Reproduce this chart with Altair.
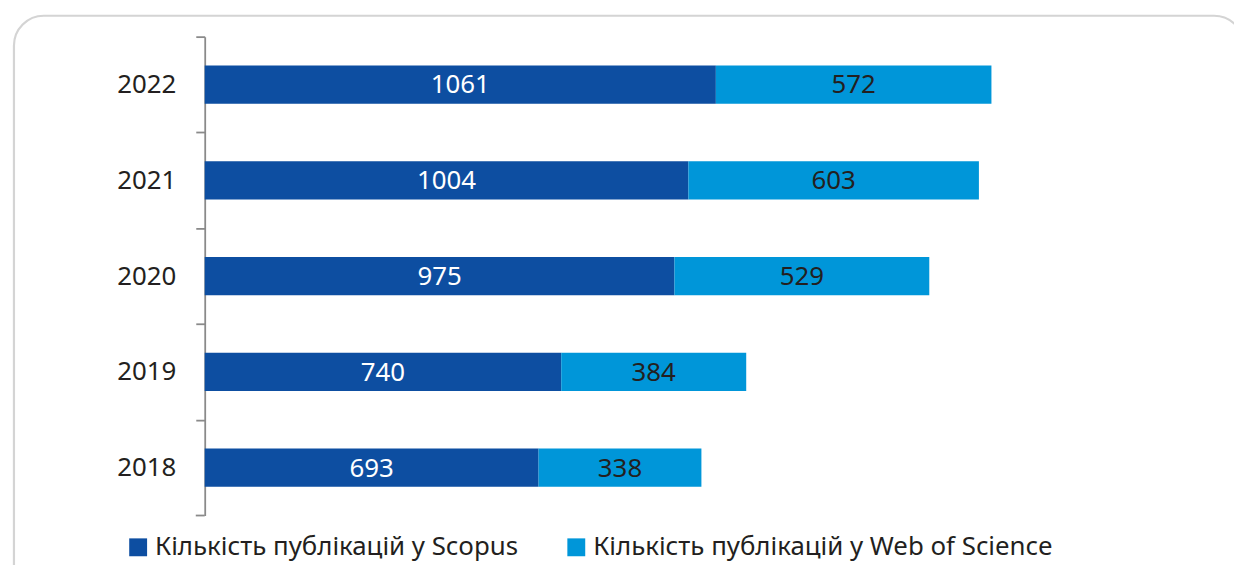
import altair as alt
import pandas as pd

years = ["2022", "2021", "2020", "2019", "2018"]
scopus = [1061, 1004, 975, 740, 693]
wos = [572, 603, 529, 384, 338]
series = ["Кількість публікацій у Scopus", "Кількість публікацій у Web of Science"]
colors = ["#0d4ea1", "#0096d9"]
text_colors = ["#ffffff", "#231f20"]

rows = []
for i, y in enumerate(years):
    rows.append({"year": y, "series": series[0], "value": scopus[i], "order": 0, "tc": text_colors[0]})
    rows.append({"year": y, "series": series[1], "value": wos[i], "order": 1, "tc": text_colors[1]})
df = pd.DataFrame(rows)

FONT = "Noto Sans"
H = 482
STEP = H / len(years)
AXIS_GRAY = "#8a8a8a"

base = alt.Chart(df).transform_stack(
    stack="value", groupby=["year"], as_=["x0", "x1"], sort=[alt.SortField("order")]
).transform_calculate(mid="(datum.x0 + datum.x1) / 2")

yenc = alt.Y(
    "year:N", sort=years, title=None,
    scale=alt.Scale(paddingInner=0.6, paddingOuter=0.3),
    axis=alt.Axis(
        tickOffset=-STEP / 2, labelOffset=STEP / 2, tickSize=9, tickColor=AXIS_GRAY, tickWidth=1.8,
        domainColor=AXIS_GRAY, domainWidth=1.8, labelFont=FONT, labelFontSize=26,
        labelColor="#231f20", labelPadding=20, grid=False,
    ),
)
xscale = alt.Scale(domain=[0, 2120], nice=False, zero=True)

bars = base.mark_bar().encode(
    y=yenc,
    x=alt.X("x0:Q", scale=xscale, axis=None),
    x2="x1:Q",
    color=alt.Color(
        "series:N", scale=alt.Scale(domain=series, range=colors),
        legend=alt.Legend(
            title=None, orient="none", direction="horizontal", legendX=-80, legendY=501,
            symbolType="square", symbolSize=324, symbolStrokeWidth=0, symbolOpacity=1,
            labelFont=FONT, labelFontSize=26, labelColor="#231f20", labelLimit=700,
            columnPadding=45, symbolOffset=0, labelOffset=4,
        ),
    ),
    order=alt.Order("order:Q"),
)

labels = base.mark_text(font=FONT, fontSize=26, baseline="middle", align="center", dy=1).encode(
    y=alt.Y("year:N", sort=years),
    x=alt.X("mid:Q", scale=xscale),
    text="value:Q",
    color=alt.Color("tc:N", scale=None),
)

bottom_tick = alt.Chart(pd.DataFrame({"a": [0]})).mark_rule(
    color=AXIS_GRAY, strokeWidth=1.8
).encode(x=alt.value(-9), x2=alt.value(0), y=alt.value(H))

frame = alt.Chart(pd.DataFrame({"a": [0]})).mark_rect(
    fillOpacity=0, stroke="#d4d4d4", strokeWidth=2.2, cornerRadius=30
).encode(
    x=alt.value(-192), x2=alt.value(1046), y=alt.value(-21), y2=alt.value(620)
)

chart = alt.layer(frame, bars, labels, bottom_tick).properties(
    width=1028, height=H,
    autosize=alt.AutoSizeParams(type="none"),
    padding={"left": 198, "top": 27, "right": 8, "bottom": 52},
).configure_view(stroke=None)

chart.save("out.html", embed_options={"renderer": "svg", "actions": False})
